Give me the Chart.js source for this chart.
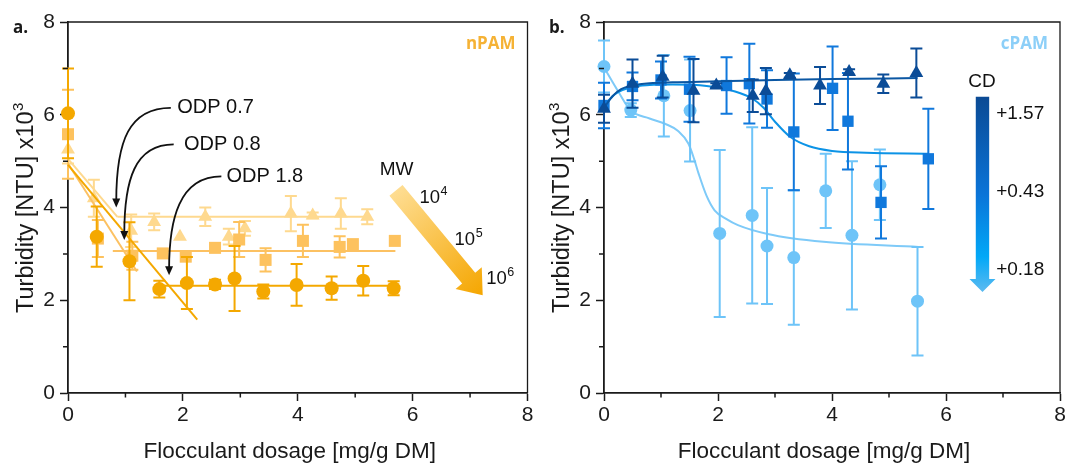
<!DOCTYPE html>
<html><head><meta charset="utf-8">
<script src="https://cdn.jsdelivr.net/npm/chart.js@4.4.0/dist/chart.umd.min.js"></script>
<style>
html,body{margin:0;padding:0;background:#fff;width:1068px;height:468px;overflow:hidden}
canvas{position:absolute;top:0}
#ca{left:0}
#cb{left:536px}
</style></head><body>
<canvas id="ca" width="536" height="468"></canvas>
<canvas id="cb" width="532" height="468"></canvas>
<script>
// ---------- axis ticks ----------
const xTicks = [0, 2, 4, 6, 8];
const yTicks = [0, 2, 4, 6, 8];
const minorTicks = [1, 3, 5, 7];

// ---------- panel a: nPAM ----------
const nCircX = [0, 0.5, 1.07, 1.59, 2.07, 2.56, 2.9, 3.4, 3.98, 4.59, 5.14, 5.67];
const nCircY = [6.03, 3.37, 2.84, 2.24, 2.37, 2.34, 2.47, 2.19, 2.33, 2.26, 2.42, 2.26];
const nCircE = [0.97, 0.65, 0.84, 0.18, 0.56, 0.1, 0.7, 0.15, 0.45, 0.25, 0.32, 0.15];

const nSqX = [0, 0.52, 1.12, 1.65, 2.05, 2.56, 2.98, 3.44, 4.09, 4.73, 4.96, 5.69];
const nSqY = [5.58, 3.33, 2.96, 3.01, 2.94, 3.13, 3.31, 2.87, 3.28, 3.15, 3.21, 3.28];
const nSqE = [0.96, 0.4, 0.3, 0, 0, 0, 0.38, 0.25, 0.35, 0.23, 0, 0];

const nTriX = [0, 0.45, 1.1, 1.5, 1.95, 2.39, 2.8, 3.08, 3.88, 4.26, 4.75, 5.21];
const nTriY = [5.25, 4.2, 3.5, 3.69, 3.37, 3.8, 3.37, 3.55, 3.87, 3.83, 3.87, 3.8];
const nTriE = [0.3, 0.4, 0.35, 0.18, 0, 0.2, 0.17, 0.16, 0.38, 0.06, 0.33, 0.16];

// fitted segments (descending part, plateau part)
const nCircFitDescX = [0, 2.25];   const nCircFitDescY = [4.92, 1.58];
const nCircFitFlatX = [1.5, 5.7];  const nCircFitFlatY = [2.31, 2.31];
const nSqFitDescX = [0, 1.2];      const nSqFitDescY = [4.95, 2.62];
const nSqFitFlatX = [0.78, 5.7];   const nSqFitFlatY = [3.06, 3.06];
const nTriFitDescX = [0, 0.86];    const nTriFitDescY = [5.05, 3.8];
const nTriFitFlatX = [0.86, 5.2];  const nTriFitFlatY = [3.8, 3.8];

const odpLabels = ['ODP 0.7', 'ODP 0.8', 'ODP 1.8'];
const odpLabelX = [1.9, 2.02, 2.76];
const odpLabelY = [6.15, 5.36, 4.67];
// bezier arrows: start, control1, control2, end (data space)
const odpArrowX = [[1.79, 1.07, 0.84, 0.84], [1.84, 1.16, 0.98, 0.98], [2.67, 1.93, 1.76, 1.76]];
const odpArrowY = [[6.15, 6.15, 5.45, 4.0], [5.36, 5.36, 4.59, 3.3], [4.67, 4.67, 3.73, 2.54]];

const mwLabels = ['4', '5', '6'];
const mwLabelX = [6.36, 6.97, 7.52];
const mwLabelY = [4.2, 3.3, 2.46];

// ---------- panel b: cPAM ----------
const cCircX = [0, 0.47, 1.05, 1.51, 2.03, 2.6, 2.86, 3.33, 3.89, 4.35, 4.84, 5.5];
const cCircY = [7.04, 6.1, 6.41, 6.09, 3.44, 3.83, 3.17, 2.92, 4.36, 3.4, 4.49, 1.98];
const cCircE = [0.56, 0.15, 0.88, 1.1, 1.8, 1.9, 1.25, 1.45, 0.8, 1.6, 0.76, 1.17];

const cSqX = [0, 0.5, 1.0, 1.5, 2.15, 2.55, 2.86, 3.33, 4.01, 4.28, 4.86, 5.69];
const cSqY = [6.2, 6.61, 6.75, 6.55, 6.63, 6.67, 6.34, 5.63, 6.57, 5.86, 4.11, 5.05];
const cSqE = [0.49, 0.3, 0.4, 0.7, 0.61, 0.86, 0.62, 1.26, 0.9, 1.04, 0.78, 1.08];

const cTriX = [0, 0.5, 1.03, 1.57, 1.97, 2.61, 2.84, 3.26, 3.79, 4.3, 4.9, 5.48];
const cTriY = [6.13, 6.67, 6.82, 6.52, 6.63, 6.41, 6.51, 6.85, 6.63, 6.92, 6.67, 6.9];
const cTriE = [0.3, 0.52, 0.45, 0.68, 0.05, 0.35, 0.5, 0.05, 0.4, 0.06, 0.2, 0.53];

const cTriFitX = [0, 0.15, 0.3, 0.5, 0.8, 1.2, 2, 3, 4, 5.5];
const cTriFitY = [6.15, 6.4, 6.55, 6.63, 6.68, 6.7, 6.72, 6.75, 6.77, 6.79];
const cSqFitX = [0, 0.2, 0.5, 0.8, 1.2, 1.8, 2.3, 2.6, 2.8, 3.0, 3.27, 3.6, 4.0, 4.6, 5.7];
const cSqFitY = [6.2, 6.45, 6.6, 6.64, 6.65, 6.62, 6.5, 6.35, 6.15, 5.85, 5.52, 5.32, 5.22, 5.18, 5.16];
const cCircFitX = [0, 0.25, 0.47, 0.8, 1.08, 1.3, 1.48, 1.58, 1.66, 1.8, 1.94, 2.15, 2.35, 2.87, 3.85, 5.52];
const cCircFitY = [7.02, 6.5, 6.09, 5.92, 5.8, 5.65, 5.38, 5.05, 4.73, 4.25, 3.94, 3.75, 3.62, 3.43, 3.26, 3.15];

const cdLabels = ['+1.57', '+0.43', '+0.18'];
const cdLabelY = [6.02, 4.34, 2.65];

// ---------- helpers ----------
const FONT = "'Liberation Sans', Arial, sans-serif";
const BOLD = "'Open Sans', 'Liberation Sans', sans-serif";
const INK = '#1a1a1a';
const pts = (xs, ys) => xs.map((x, i) => ({x, y: ys[i]}));

Chart.defaults.font.family = FONT;
Chart.defaults.color = INK;

const errorBars = {
  id: 'errorBars',
  beforeDatasetDraw(chart, args) {
    const ds = chart.data.datasets[args.index];
    if (!ds.errors) return;
    const ctx = chart.ctx, xs = chart.scales.x, ys = chart.scales.y;
    ctx.save();
    ctx.strokeStyle = ds.borderColor;
    ctx.lineWidth = 2;
    const cw = ds.capW || 6;
    ds.data.forEach((p, j) => {
      const e = ds.errors[j];
      if (!e) return;
      const x = xs.getPixelForValue(p.x);
      const y1 = ys.getPixelForValue(p.y + e), y2 = ys.getPixelForValue(p.y - e);
      ctx.beginPath();
      ctx.moveTo(x, y1); ctx.lineTo(x, y2);
      ctx.moveTo(x - cw, y1); ctx.lineTo(x + cw, y1);
      ctx.moveTo(x - cw, y2); ctx.lineTo(x + cw, y2);
      ctx.stroke();
    });
    ctx.restore();
  }
};

function supText(ctx, base, sup, x, y, size, supSize, align) {
  ctx.font = size + 'px ' + FONT;
  const wb = ctx.measureText(base).width;
  ctx.font = supSize + 'px ' + FONT;
  const ws = ctx.measureText(sup).width;
  let x0 = x;
  if (align === 'center') x0 = x - (wb + ws) / 2;
  ctx.textAlign = 'left';
  ctx.textBaseline = 'middle';
  ctx.font = size + 'px ' + FONT;
  ctx.fillText(base, x0, y);
  ctx.font = supSize + 'px ' + FONT;
  ctx.fillText(sup, x0 + wb + 0.5, y - size * 0.36);
}

function frameAndTitles(chart, panelLabel) {
  const ctx = chart.ctx, a = chart.chartArea, xs = chart.scales.x, ys = chart.scales.y;
  ctx.save();
  ctx.strokeStyle = INK;
  ctx.lineWidth = 1.3;
  ctx.beginPath();
  ctx.moveTo(a.left, a.top); ctx.lineTo(a.right, a.top); ctx.lineTo(a.right, a.bottom);
  ctx.stroke();
  // minor ticks (shorter, outward)
  ctx.lineWidth = 1.5;
  ctx.beginPath();
  minorTicks.forEach(v => {
    const x = xs.getPixelForValue(v), y = ys.getPixelForValue(v);
    ctx.moveTo(x, a.bottom); ctx.lineTo(x, a.bottom + 4.5);
    ctx.moveTo(a.left, y); ctx.lineTo(a.left - 5, y);
  });
  ctx.stroke();
  ctx.fillStyle = INK;
  // x title
  ctx.font = '22.5px ' + FONT;
  ctx.textAlign = 'center';
  ctx.textBaseline = 'middle';
  ctx.fillText('Flocculant dosage [mg/g DM]', (a.left + a.right) / 2 - 8, 452);
  // y title
  ctx.save();
  ctx.translate(27, 208);
  ctx.rotate(-Math.PI / 2);
  supText(ctx, 'Turbidity [NTU] x10', '3', 0, 0, 23.5, 15, 'center');
  ctx.restore();
  // panel label
  ctx.font = 'bold 17px ' + BOLD;
  ctx.textAlign = 'left';
  ctx.fillText(panelLabel, 13, 28);
  ctx.restore();
}

function axes() {
  const tickFont = {size: 21, family: FONT};
  const majorColor = c => (c.tick && c.tick.value % 2) ? 'rgba(0,0,0,0)' : INK;
  return {
    x: {
      type: 'linear', min: 0, max: 8,
      afterBuildTicks: s => { s.ticks = [0,1,2,3,4,5,6,7,8].map(v => ({value: v})); },
      ticks: {font: tickFont, color: INK, padding: 2, maxRotation: 0,
              callback: v => xTicks.includes(v) ? String(v) : ''},
      grid: {drawOnChartArea: false, tickLength: 8, color: majorColor, tickColor: majorColor, tickWidth: 1.5},
      border: {color: INK, width: 1.8},
      afterFit: s => { s.height = 75; }
    },
    y: {
      type: 'linear', min: 0, max: 8,
      afterBuildTicks: s => { s.ticks = [0,1,2,3,4,5,6,7,8].map(v => ({value: v})); },
      ticks: {font: tickFont, color: INK, padding: 5,
              callback: v => yTicks.includes(v) ? String(v) : ''},
      grid: {drawOnChartArea: false, tickLength: 8, color: majorColor, tickColor: majorColor, tickWidth: 1.5},
      border: {color: INK, width: 1.8},
      afterFit: s => { s.width = 68; }
    }
  };
}

function scatterDs(data, errors, color, style, radius, order) {
  return {type: 'scatter', data, errors, borderColor: color, backgroundColor: color,
          pointStyle: style, pointRadius: radius, pointHoverRadius: radius, pointBorderWidth: 0,
          showLine: false, order, clip: false, capW: 6};
}
function lineDs(data, color, order, smooth) {
  return {type: 'line', data, borderColor: color, backgroundColor: color, borderWidth: 2,
          pointRadius: 0, fill: false, order, clip: false,
          cubicInterpolationMode: smooth ? 'monotone' : 'default', tension: 0};
}

// ---------- panel a ----------
const cDark = '#F4A800', cMid = '#FDC25E', cLight = '#FED98F';
const annotA = {
  id: 'annotA',
  afterDraw(chart) {
    const ctx = chart.ctx, xs = chart.scales.x, ys = chart.scales.y;
    const px = v => xs.getPixelForValue(v), py = v => ys.getPixelForValue(v);
    frameAndTitles(chart, 'a.');
    ctx.save();
    // nPAM label
    ctx.font = 'bold 17px ' + BOLD;
    ctx.fillStyle = '#F5B235';
    ctx.textAlign = 'right'; ctx.textBaseline = 'middle';
    ctx.fillText('nPAM', chart.chartArea.right - 12, 44);
    // ODP labels and arrows
    ctx.fillStyle = '#111'; ctx.strokeStyle = '#111'; ctx.lineWidth = 1.8;
    ctx.font = '20px ' + FONT; ctx.textAlign = 'left';
    odpLabels.forEach((t, i) => {
      ctx.fillText(t, px(odpLabelX[i]), py(odpLabelY[i]));
      const X = odpArrowX[i].map(px), Y = odpArrowY[i].map(py);
      ctx.beginPath();
      ctx.moveTo(X[0], Y[0]);
      ctx.bezierCurveTo(X[1], Y[1], X[2], Y[2], X[3], Y[3] - 6);
      ctx.stroke();
      ctx.beginPath();
      ctx.moveTo(X[3], Y[3]); ctx.lineTo(X[3] - 4, Y[3] - 9); ctx.lineTo(X[3] + 4, Y[3] - 9);
      ctx.closePath(); ctx.fill();
    });
    // MW arrow
    const S = {x: px(5.71), y: py(4.37)}, T = {x: px(7.22), y: py(2.11)};
    const L = Math.hypot(T.x - S.x, T.y - S.y);
    const d = {x: (T.x - S.x) / L, y: (T.y - S.y) / L}, n = {x: -d.y, y: d.x};
    const w = 8.5, hw = 17, hl = 22;
    const H = {x: T.x - d.x * hl, y: T.y - d.y * hl};
    const g = ctx.createLinearGradient(S.x, S.y, T.x, T.y);
    g.addColorStop(0, '#FEDD92'); g.addColorStop(1, '#F5A600');
    ctx.fillStyle = g;
    ctx.beginPath();
    ctx.moveTo(S.x + n.x * w, S.y + n.y * w);
    ctx.lineTo(H.x + n.x * w, H.y + n.y * w);
    ctx.lineTo(H.x + n.x * hw, H.y + n.y * hw);
    ctx.lineTo(T.x, T.y);
    ctx.lineTo(H.x - n.x * hw, H.y - n.y * hw);
    ctx.lineTo(H.x - n.x * w, H.y - n.y * w);
    ctx.lineTo(S.x - n.x * w, S.y - n.y * w);
    ctx.closePath(); ctx.fill();
    ctx.fillStyle = '#111';
    ctx.font = '19px ' + FONT; ctx.textAlign = 'center';
    ctx.fillText('MW', px(5.72), py(4.82));
    mwLabels.forEach((s, i) => supText(ctx, '10', s, px(mwLabelX[i]), py(mwLabelY[i]), 18.5, 12.5, 'center'));
    ctx.restore();
  }
};

new Chart(document.getElementById('ca'), {
  type: 'scatter',
  data: {datasets: [
    scatterDs(pts(nCircX, nCircY), nCircE, cDark, 'circle', 7, 1),
    scatterDs(pts(nSqX, nSqY), nSqE, cMid, 'rect', 8.5, 3),
    scatterDs(pts(nTriX, nTriY), nTriE, cLight, 'triangle', 8, 5),
    lineDs(pts(nCircFitDescX, nCircFitDescY), cDark, 2),
    lineDs(pts(nCircFitFlatX, nCircFitFlatY), cDark, 2),
    lineDs(pts(nSqFitDescX, nSqFitDescY), '#FCC162', 4),
    lineDs(pts(nSqFitFlatX, nSqFitFlatY), '#FCC162', 4),
    lineDs(pts(nTriFitDescX, nTriFitDescY), cLight, 6),
    lineDs(pts(nTriFitFlatX, nTriFitFlatY), cLight, 6)
  ]},
  options: {
    responsive: false, animation: false, devicePixelRatio: 1,
    layout: {padding: {left: 0, top: 22, right: 4, bottom: 0}},
    plugins: {legend: {display: false}, tooltip: {enabled: false}},
    scales: axes()
  },
  plugins: [errorBars, annotA]
});

// ---------- panel b ----------
const bLight = '#6EC4F8', bMid = '#1078DC', bDark = '#0B4C97';
const annotB = {
  id: 'annotB',
  afterDraw(chart) {
    const ctx = chart.ctx, xs = chart.scales.x, ys = chart.scales.y;
    const px = v => xs.getPixelForValue(v), py = v => ys.getPixelForValue(v);
    frameAndTitles(chart, 'b.');
    ctx.save();
    ctx.font = 'bold 17px ' + BOLD;
    ctx.fillStyle = '#8CCFF8';
    ctx.textAlign = 'right'; ctx.textBaseline = 'middle';
    ctx.fillText('cPAM', chart.chartArea.right - 12, 44);
    // CD arrow
    const cx = px(6.64), top = py(6.39), tip = py(2.18);
    const w = 6.7, hw = 13, hl = 13;
    const g = ctx.createLinearGradient(0, top, 0, tip);
    g.addColorStop(0, '#0B4A94'); g.addColorStop(0.5, '#0A74D8');
    g.addColorStop(0.82, '#02A8F7'); g.addColorStop(1, '#5CBAF0');
    ctx.fillStyle = g;
    ctx.beginPath();
    ctx.moveTo(cx - w, top); ctx.lineTo(cx + w, top); ctx.lineTo(cx + w, tip - hl);
    ctx.lineTo(cx + hw, tip - hl); ctx.lineTo(cx, tip); ctx.lineTo(cx - hw, tip - hl);
    ctx.lineTo(cx - w, tip - hl); ctx.closePath(); ctx.fill();
    ctx.fillStyle = '#111';
    ctx.font = '19px ' + FONT; ctx.textAlign = 'center'; ctx.textBaseline = 'middle';
    ctx.fillText('CD', px(6.63), py(6.71));
    ctx.textAlign = 'left';
    cdLabels.forEach((t, i) => ctx.fillText(t, px(6.88), py(cdLabelY[i])));
    ctx.restore();
  }
};

new Chart(document.getElementById('cb'), {
  type: 'scatter',
  data: {datasets: [
    scatterDs(pts(cTriX, cTriY), cTriE, bDark, 'triangle', 8, 1),
    lineDs(pts(cTriFitX, cTriFitY), '#0B57A3', 2, true),
    scatterDs(pts(cSqX, cSqY), cSqE, bMid, 'rect', 8, 3),
    lineDs(pts(cSqFitX, cSqFitY), '#0C93E6', 4, true),
    scatterDs(pts(cCircX, cCircY), cCircE, bLight, 'circle', 6.5, 5),
    lineDs(pts(cCircFitX, cCircFitY), '#7ECAF8', 6, true)
  ]},
  options: {
    responsive: false, animation: false, devicePixelRatio: 1,
    layout: {padding: {left: 0, top: 22, right: 1, bottom: 0}},
    plugins: {legend: {display: false}, tooltip: {enabled: false}},
    scales: axes()
  },
  plugins: [errorBars, annotB]
});
</script>
</body></html>
